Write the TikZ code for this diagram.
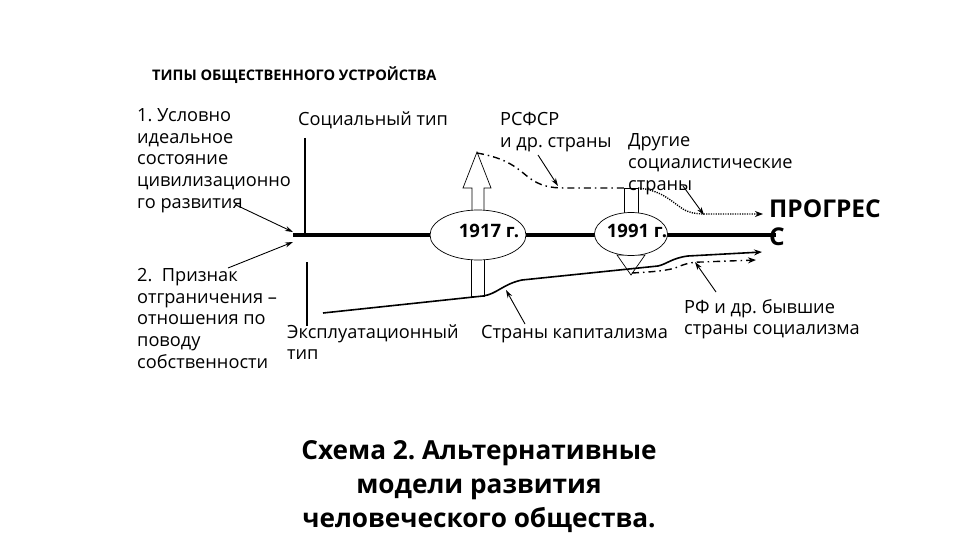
\documentclass[tikz,border=0pt]{standalone}
\usepackage{fontspec}
\setmainfont{Open Sans}
\usetikzlibrary{arrows.meta,shapes.geometric}
\newcommand\mlines[1]{\begin{tabular}[t]{@{}l@{}}#1\end{tabular}}
\frenchspacing
\begin{document}
\begin{tikzpicture}[x=1pt,y=-1pt,
  lbl/.style={anchor=base west,inner sep=0pt,font=\fontsize{18.2}{21.6}\selectfont},
  ptr/.style={-{Stealth[length=8pt,width=5pt]},line width=0.9pt},
  axis/.style={line width=2pt},
  block/.style={draw,fill=white,line width=0.7pt},
  dashdot/.style={line width=1.4pt,dash pattern=on 7pt off 4pt on 1.5pt off 4pt},
  dotline/.style={line width=1.4pt,dash pattern=on 1.2pt off 1.2pt},
  tipped/.style={-{Stealth[length=8pt,width=6pt]}}]
\useasboundingbox[fill=white] (0,0) rectangle (960,540);

% title
\node[anchor=base west,inner sep=0pt,font=\fontsize{14.6}{16}\selectfont\bfseries] (title) at (152,80.7) {ТИПЫ ОБЩЕСТВЕННОГО УСТРОЙСТВА};

% left blocks
\node[lbl] (type1) at (137,121.7) {\mlines{1. Условно\\идеальное\\состояние\\цивилизационно\\го развития}};
\node[lbl] (type2) at (137,281.7) {\mlines{2.\ \ Признак\\отграничения –\\отношения по\\поводу\\собственности}};

% axes
\coordinate (vtop) at (305,138);
\coordinate (vmid) at (305,234);
\coordinate (vlow1) at (307,262);
\coordinate (vlow2) at (307,326);
\coordinate (hstart) at (293,235);
\coordinate (hend) at (776,235);
\draw[axis] (vtop) -- (vmid);
\draw[line width=2.6pt] (vlow1) -- (vlow2);
\draw[line width=3.5pt] (hstart) -- (hend);

% labels of axis
\node[lbl] (social) at (298,126) {Социальный тип};
\node[lbl] (exploit) at (287,338) {\mlines{Эксплуатационный\\тип}};

% 1917 arrows
\draw[block] (472,211) -- (472,188) -- (463,188) -- (477,152) -- (491,188) -- (484,188) -- (484,211);
\coordinate (tip17) at (477,153);
\draw[block] (471,256) rectangle (484,296);

% 1991 arrows
\draw[block] (624,188) rectangle (638,215);
\coordinate (top91l) at (624,188);
\coordinate (top91r) at (638,188);
\draw[block] (624,243) -- (624,255) -- (617,255) -- (631,275) -- (645,255) -- (638,255) -- (638,243);
\coordinate (tip91) at (632,273);

% ellipses
\node[ellipse,draw,fill=white,line width=0.7pt,minimum width=96pt,minimum height=50pt,inner sep=0pt] (e17) at (478,235) {};
\node[anchor=base,inner sep=0pt,font=\fontsize{18.5}{20}\selectfont\bfseries] (t17) at (489,237) {1917 г.};
\node[ellipse,draw,fill=white,line width=0.7pt,minimum width=73pt,minimum height=43pt,inner sep=0pt] (e91) at (631,234) {};
\node[anchor=base,inner sep=0pt,font=\fontsize{18.5}{20}\selectfont\bfseries] (t91) at (637,237) {1991 г.};

% RSFSR dash-dot curve
\draw[dashdot] (tip17) .. controls (505,158) and (515,166) .. (528,177) .. controls (540,186) and (550,188) .. (565,188) -- (top91l);
% other socialist: dotted
\coordinate (prog1) at (763,214);
\draw[dotline,tipped] (top91r) .. controls (660,190) and (670,200) .. (680,207) .. controls (688,213) and (695,214) .. (708,214) -- (prog1);

% capitalism solid
\coordinate (cap0) at (323,313);
\coordinate (cap1) at (762,252);
\draw[line width=1.6pt,tipped] (cap0) -- (483,296) .. controls (497,294) and (503,284) .. (522,280) -- (658,266) .. controls (667,264) and (672,258) .. (688,256) -- (cap1);

% RF dash-dot
\coordinate (rf1) at (756,260);
\draw[dashdot,tipped] (tip91) .. controls (650,272) and (665,271) .. (675,268) .. controls (685,264) and (690,262) .. (702,262) -- (rf1);

% labels
\node[lbl] (rsfsr) at (500,126) {\mlines{РСФСР\\и др. страны}};
\node[lbl] (others) at (628,147) {\mlines{Другие\\социалистические\\страны}};
\node[lbl] (capital) at (481,338) {Страны капитализма};
\node[lbl] (rf) at (684,313) {\mlines{РФ и др. бывшие\\страны социализма}};
\node[anchor=base west,inner sep=0pt,font=\fontsize{24.5}{28}\selectfont\bfseries] (progress) at (769,217) {\mlines{ПРОГРЕС\\С}};

% pointers
\coordinate (p1a) at (236,205); \coordinate (p1b) at (293,232);
\coordinate (p2a) at (228,268); \coordinate (p2b) at (293,242);
\coordinate (p3a) at (538,155); \coordinate (p3b) at (558,186);
\coordinate (p4a) at (683,186); \coordinate (p4b) at (704,215);
\coordinate (p5a) at (525,324); \coordinate (p5b) at (506,290);
\coordinate (p6a) at (716,292); \coordinate (p6b) at (695,262);
\draw[ptr] (p1a) -- (p1b);
\draw[ptr] (p2a) -- (p2b);
\draw[ptr] (p3a) -- (p3b);
\draw[ptr] (p4a) -- (p4b);
\draw[ptr] (p5a) -- (p5b);
\draw[ptr] (p6a) -- (p6b);

% caption
\node[anchor=north,inner sep=0pt,align=center,font=\fontsize{26.2}{34}\selectfont\bfseries] (caption) at (479,440) {Схема 2. Альтернативные\\модели развития\\человеческого общества.};
\end{tikzpicture}
\end{document}
